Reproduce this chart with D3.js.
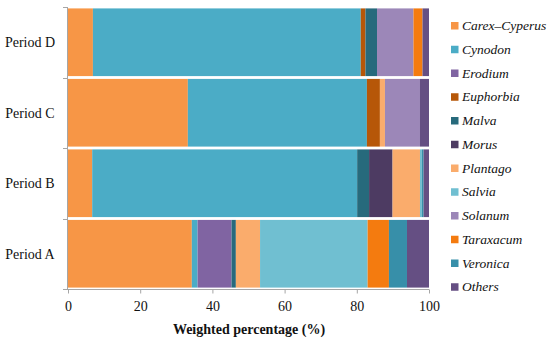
<!DOCTYPE html>
<html><head><meta charset="utf-8">
<script src="https://cdn.jsdelivr.net/npm/d3@7"></script>
<style>body{margin:0;background:#fff}</style>
</head><body>
<svg id="c" width="550" height="342"></svg>
<script>
const periods = ["Period A","Period B","Period C","Period D"];
const taxa = ["Carex–Cyperus","Cynodon","Erodium","Euphorbia","Malva","Morus","Plantago","Salvia","Solanum","Taraxacum","Veronica","Others"];
const colors = ["#F79646","#4BACC6","#8064A2","#B65708","#276A7C","#4D3B62","#FAAC6C","#70BFD1","#9C87B8","#F47B0F","#378FA9","#654F83"];
const periodA = [34.3,1.6,9.4,0,1.2,0,6.7,29.8,0,5.9,5.0,6.1];
const periodB = [6.7,73.4,0,0,3.3,6.5,7.6,0.5,0,0,0.5,1.5];
const periodC = [33.2,49.6,0,3.6,0,0,1.4,0,9.7,0,0,2.5];
const periodD = [6.9,74.2,0,1.3,3.2,0,0,0,10.1,2.5,0,1.8];
const xTicks = [0,20,40,60,80,100];
const xTitle = "Weighted percentage (%)";

const FONT = "Liberation Serif, serif";
const rows = [periodA,periodB,periodC,periodD];
const svg = d3.select("#c");
const x = d3.scaleLinear().domain([0,100]).range([68,429]);
const y = d3.scaleBand().domain(periods.slice().reverse()).range([7,289]).paddingInner(0.04).paddingOuter(0.02);
const yb = d3.scaleBand().domain(periods.slice().reverse()).range([7,289]);
const color = d3.scaleOrdinal().domain(taxa).range(colors);

periods.forEach((p,i)=>{
  const vals = rows[i];
  const tot = d3.sum(vals);
  let acc = 0;
  const segs = vals.map((v,j)=>{const s={k:taxa[j],x0:acc/tot*100,x1:(acc+v)/tot*100};acc+=v;return s;}).filter(s=>s.x1>s.x0);
  svg.append("g").selectAll("rect").data(segs).join("rect")
    .attr("x",d=>x(d.x0)).attr("width",d=>x(d.x1)-x(d.x0))
    .attr("y",y(p)).attr("height",y.bandwidth())
    .attr("fill",d=>color(d.k));
});

const axisColor = "#a6a6a6";
const gl = svg.append("g");
gl.append("line").attr("x1",67.5).attr("x2",67.5).attr("y1",7).attr("y2",289).attr("stroke",axisColor);
const bounds = periods.map(p=>yb(p)).concat([289]);
gl.selectAll("line.t").data(bounds).join("line").attr("class","t")
  .attr("x1",63).attr("x2",67.5).attr("y1",d=>Math.round(d)+0.5).attr("y2",d=>Math.round(d)+0.5).attr("stroke",axisColor);
gl.selectAll("text").data(periods).join("text")
  .attr("x",30).attr("y",d=>yb(d)+yb.bandwidth()/2).attr("dy","0.35em")
  .attr("text-anchor","middle").attr("font-family",FONT).attr("font-size",14).attr("fill","#111")
  .text(d=>d);

const gb = svg.append("g").attr("transform","translate(0,289.5)");
const ax = d3.axisBottom(x).tickValues(xTicks).tickSize(4).tickSizeOuter(0).tickPadding(8);
gb.call(ax);
gb.select(".domain").attr("stroke",axisColor).attr("d","M63,0H"+x(100));
gb.selectAll(".tick line").attr("stroke",axisColor);
gb.selectAll(".tick text").attr("font-family",FONT).attr("font-size",14).attr("fill","#111");

svg.append("text").attr("x",249).attr("y",334).attr("text-anchor","middle")
  .attr("font-family",FONT).attr("font-weight","bold").attr("font-size",14).attr("fill","#111")
  .text(xTitle);

const lg = svg.append("g");
const items = lg.selectAll("g").data(taxa).join("g")
  .attr("transform",(d,i)=>`translate(451,${25.5+i*23.75})`);
items.append("rect").attr("x",0).attr("y",-3.5).attr("width",7.5).attr("height",7.5).attr("fill",d=>color(d));
items.append("text").attr("x",11).attr("dy","0.35em")
  .attr("font-family",FONT).attr("font-style","italic").attr("font-size",13.5).attr("fill","#111")
  .text(d=>d);
</script>
</body></html>
